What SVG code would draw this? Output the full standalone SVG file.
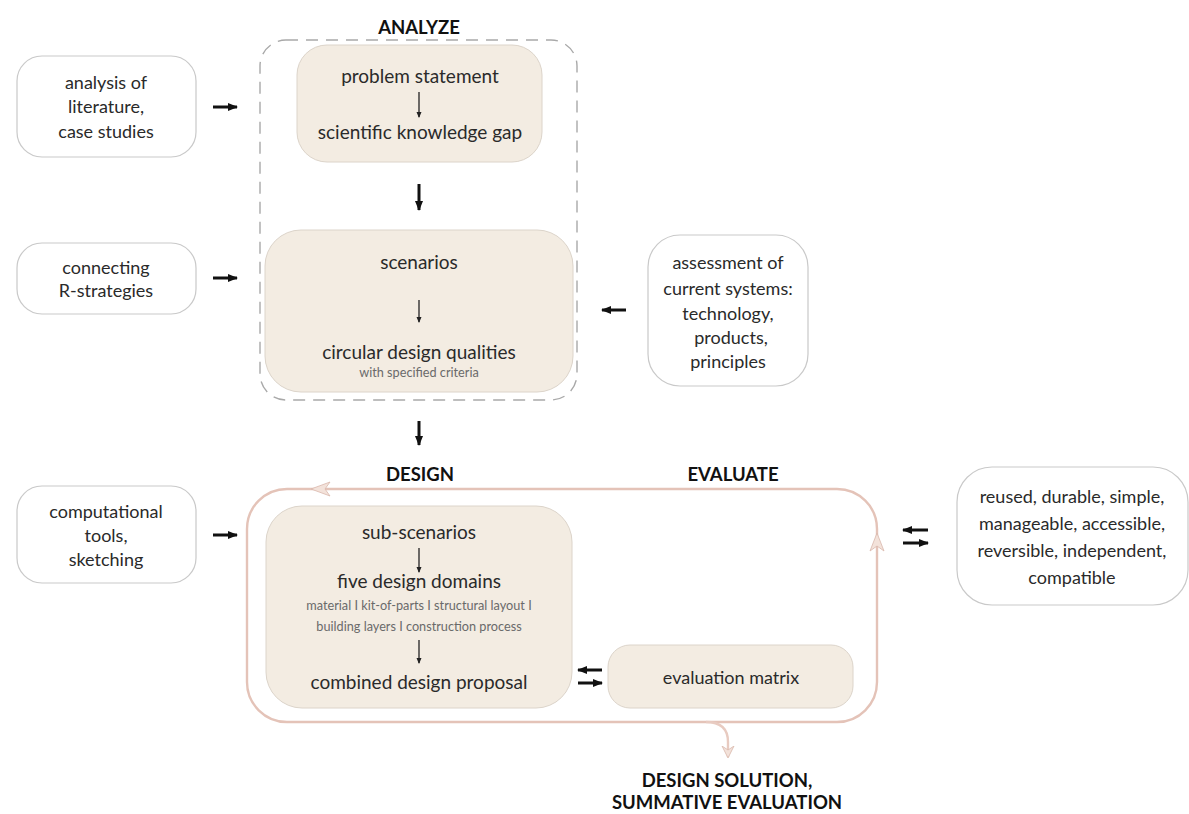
<svg xmlns="http://www.w3.org/2000/svg" width="1189" height="814" viewBox="0 0 1189 814">
  <style>
    .box { fill: #ffffff; stroke: #c9c9c9; stroke-width: 1.2; }
    .core { fill: #f3ece2; stroke: #dcd4ca; stroke-width: 1; }
    .t { font-family: Lato, "Liberation Sans", sans-serif; font-size: 18px; fill: #2a2a2a; text-anchor: middle; }
    .tb { font-family: Lato, "Liberation Sans", sans-serif; font-size: 19px; fill: #2a2a2a; text-anchor: middle; }
    .ts { font-family: Lato, "Liberation Sans", sans-serif; font-size: 12.7px; fill: #6a6a6a; text-anchor: middle; }
    .h { font-family: Lato, "Liberation Sans", sans-serif; font-size: 18.5px; font-weight: bold; fill: #111; text-anchor: middle; }
    .ar { stroke: #111; stroke-width: 3; fill: none; }
    .as { stroke: #222; stroke-width: 1.3; fill: none; }
    .loop { fill: none; stroke: #e4c3b8; stroke-width: 2.4; }
    .chev { fill: #f3e2da; stroke: #d9b8ac; stroke-width: 0.8; }
  </style>
  <defs>
    <marker id="hd" markerUnits="userSpaceOnUse" markerWidth="10" markerHeight="8" refX="9" refY="4" orient="auto">
      <path d="M0,0 L10,4 L0,8 z" fill="#111"/>
    </marker>
    <marker id="hs" markerUnits="userSpaceOnUse" markerWidth="6" markerHeight="6" refX="5" refY="3" orient="auto">
      <path d="M0,0.5 L6,3 L0,5.5 z" fill="#222"/>
    </marker>
    <marker id="hp" markerUnits="userSpaceOnUse" markerWidth="14" markerHeight="14" refX="11" refY="7" orient="auto">
      <path d="M0,1 L12,7 L0,13 L4,7 z" fill="#f3e2da" stroke="#d9b8ac" stroke-width="0.8"/>
    </marker>
  </defs>

  <!-- phase headings -->
  <text class="h" x="419" y="34">ANALYZE</text>
  <text class="h" x="420" y="481">DESIGN</text>
  <text class="h" x="733" y="481">EVALUATE</text>
  <text class="h" x="727" y="787">DESIGN SOLUTION,</text>
  <text class="h" x="727" y="809">SUMMATIVE EVALUATION</text>

  <!-- analyze frame -->
  <rect id="analyze-frame" x="260" y="40" width="317" height="360" rx="26" fill="none" stroke="#a9a9a9" stroke-width="1.4" stroke-dasharray="12 8"/>

  <!-- design / evaluate loop -->
  <g id="loop">
    <rect class="loop" x="247" y="489" width="630" height="233" rx="40"/>
    <polygon class="chev" points="311,489 330,482 325,489 330,496"/>
    <polygon class="chev" points="877,533 870,551 877,546 884,551"/>
    <path d="M706,722 C722,722 728,730 728,742 L728,757" fill="none" stroke="#e8cbc1" stroke-width="2.4" marker-end="url(#hp)"/>
  </g>

  <g id="n-literature">
    <rect class="box" x="17" y="56" width="179" height="101" rx="25"/>
    <text class="t" x="106" y="89">analysis of</text>
    <text class="t" x="106" y="113">literature,</text>
    <text class="t" x="106" y="138">case studies</text>
  </g>
  <g id="n-rstrategies">
    <rect class="box" x="17" y="243" width="179" height="71" rx="25"/>
    <text class="t" x="106" y="274">connecting</text>
    <text class="t" x="106" y="297">R-strategies</text>
  </g>
  <g id="n-tools">
    <rect class="box" x="17" y="486" width="179" height="97" rx="25"/>
    <text class="t" x="106" y="518">computational</text>
    <text class="t" x="106" y="542">tools,</text>
    <text class="t" x="106" y="566">sketching</text>
  </g>
  <g id="n-assessment">
    <rect class="box" x="648" y="235" width="160" height="151" rx="32"/>
    <text class="t" x="728" y="269">assessment of</text>
    <text class="t" x="728" y="295">current systems:</text>
    <text class="t" x="728" y="320">technology,</text>
    <text class="t" x="731" y="344">products,</text>
    <text class="t" x="728" y="368">principles</text>
  </g>
  <g id="n-criteria">
    <rect class="box" x="957" y="467" width="231" height="138" rx="35"/>
    <text class="t" x="1072" y="503">reused, durable, simple,</text>
    <text class="t" x="1072" y="530">manageable, accessible,</text>
    <text class="t" x="1072" y="557">reversible, independent,</text>
    <text class="t" x="1072" y="584">compatible</text>
  </g>

  <g id="n-problem">
    <rect class="core" x="297" y="45" width="245" height="117" rx="30"/>
    <text class="tb" x="420" y="83">problem statement</text>
    <line class="as" x1="419" y1="92" x2="419" y2="117" marker-end="url(#hs)"/>
    <text class="tb" x="420" y="139">scientific knowledge gap</text>
  </g>
  <g id="n-scenarios">
    <rect class="core" x="265" y="230" width="308" height="162" rx="36"/>
    <text class="tb" x="419" y="269">scenarios</text>
    <line class="as" x1="419" y1="300" x2="419" y2="322" marker-end="url(#hs)"/>
    <text class="tb" x="419" y="359">circular design qualities</text>
    <text class="ts" x="419" y="377">with specified criteria</text>
  </g>
  <g id="n-design">
    <rect class="core" x="266" y="506" width="306" height="202" rx="36"/>
    <text class="tb" x="419" y="539">sub-scenarios</text>
    <line class="as" x1="419" y1="548" x2="419" y2="572" marker-end="url(#hs)"/>
    <text class="tb" x="419" y="588">five design domains</text>
    <text class="ts" x="419" y="610">material I kit-of-parts I structural layout I</text>
    <text class="ts" x="419" y="631">building layers I construction process</text>
    <line class="as" x1="419" y1="640" x2="419" y2="663" marker-end="url(#hs)"/>
    <text class="tb" x="419" y="689">combined design proposal</text>
  </g>
  <g id="n-matrix">
    <rect class="core" x="608" y="645" width="245" height="63" rx="22"/>
    <text class="t" x="731" y="684">evaluation matrix</text>
  </g>

  <!-- connectors -->
  <g id="connectors">
    <line class="ar" x1="213" y1="107" x2="237" y2="107" marker-end="url(#hd)"/>
    <line class="ar" x1="213" y1="278" x2="237" y2="278" marker-end="url(#hd)"/>
    <line class="ar" x1="213" y1="535" x2="237" y2="535" marker-end="url(#hd)"/>
    <line class="ar" x1="626" y1="310" x2="602" y2="310" marker-end="url(#hd)"/>
    <line class="ar" x1="419" y1="184" x2="419" y2="210" marker-end="url(#hd)"/>
    <line class="ar" x1="419" y1="421" x2="419" y2="445" marker-end="url(#hd)"/>
    <line class="ar" x1="602" y1="670" x2="578" y2="670" marker-end="url(#hd)"/>
    <line class="ar" x1="578" y1="683" x2="602" y2="683" marker-end="url(#hd)"/>
    <line class="ar" x1="928" y1="530" x2="903" y2="530" marker-end="url(#hd)"/>
    <line class="ar" x1="903" y1="543" x2="928" y2="543" marker-end="url(#hd)"/>
  </g>
</svg>
